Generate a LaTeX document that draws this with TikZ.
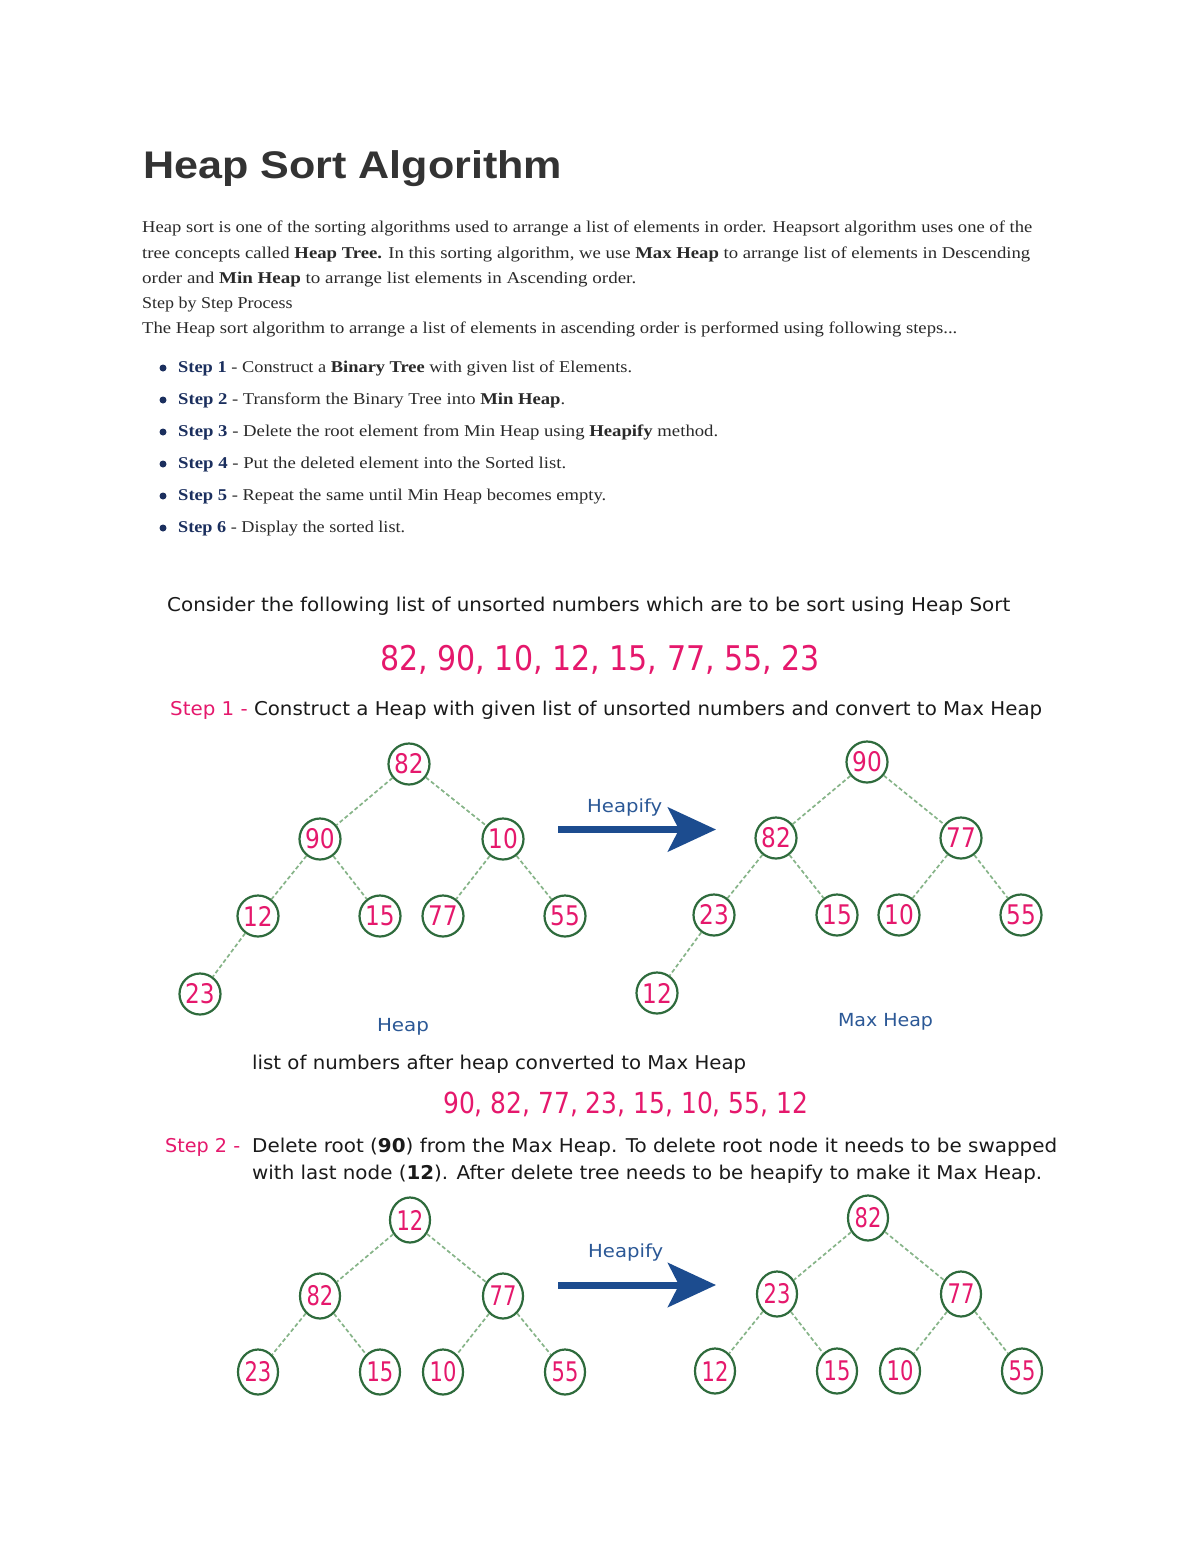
\documentclass[tikz,border=0pt]{standalone}
\usepackage{fontspec}
\usepackage{graphicx}
\setmainfont{Liberation Serif}
\newfontfamily\titlefont{Liberation Sans}
\newfontfamily\imgfont{DejaVu Sans}
\usetikzlibrary{arrows.meta,shapes.geometric}
\definecolor{bodytext}{HTML}{2A2A2A}
\definecolor{titlegray}{HTML}{333333}
\definecolor{navy}{HTML}{1B2F5E}
\definecolor{hpink}{HTML}{E5186C}
\definecolor{ngreen}{HTML}{2E6B3C}
\definecolor{egreen}{HTML}{86B488}
\definecolor{hblue}{HTML}{2B5896}
\definecolor{abl}{HTML}{1C4C8F}
\definecolor{imgtext}{HTML}{1A1A1A}
\newcommand\fitto[2]{\resizebox{#1}{\height}{#2}}
\begin{document}
\begin{tikzpicture}[x=1pt,y=-1pt,
  txt/.style={inner sep=0pt, anchor=base west, text=bodytext, font=\fontsize{16.5}{20}\selectfont},
  imgtxt/.style={inner sep=0pt, anchor=base west, text=imgtext, font=\imgfont\fontsize{19}{22}\selectfont},
  bignum/.style={inner sep=0pt, anchor=base west, text=hpink, font=\imgfont\fontsize{34}{38}\selectfont},
  lbl/.style={inner sep=0pt, anchor=base west, text=hblue, font=\imgfont\fontsize{18}{20}\selectfont},
  bulletdot/.style={circle, fill=navy, inner sep=0pt, minimum size=7pt},
  hn/.style={circle, draw=ngreen, line width=2.2pt, fill=white, minimum size=41pt, inner sep=0pt, text=hpink, font=\imgfont\fontsize{27}{27}\selectfont},
  he/.style={ellipse, draw=ngreen, line width=2.2pt, fill=white, minimum width=40pt, minimum height=45pt, inner sep=0pt, text=hpink, font=\imgfont\fontsize{27}{27}\selectfont},
  edge/.style={draw=egreen, line width=1.7pt, dash pattern=on 4pt off 2.5pt},
  harrow/.style={draw=abl, line width=7pt, -{Stealth[length=48pt, width=44pt, inset=11pt]}}
]
\useasboundingbox[fill=white] (0,0) rectangle (1200,1553);

% ---- title and text ----
\node[inner sep=0pt, anchor=base west, text=titlegray, font=\titlefont\bfseries\fontsize{38.5}{44}\selectfont] (title) at (143,178.3) {\fitto{419pt}{Heap Sort Algorithm}};

\node[txt] (p1) at (142,232.5) {\fitto{890pt}{Heap sort is one of the sorting algorithms used to arrange a list of elements in order. Heapsort algorithm uses one of the}};
\node[txt] (p2) at (142,258) {\fitto{888pt}{tree concepts called \textbf{Heap Tree.} In this sorting algorithm, we use \textbf{Max Heap} to arrange list of elements in Descending}};
\node[txt] (p3) at (142,283) {\fitto{494pt}{order and \textbf{Min Heap} to arrange list elements in Ascending order.}};
\node[txt] (p4) at (142,308) {\fitto{150.5pt}{Step by Step Process}};
\node[txt] (p5) at (142,333) {\fitto{815pt}{The Heap sort algorithm to arrange a list of elements in ascending order is performed using following steps...}};

\node[bulletdot] (b1) at (163,368) {};
\node[bulletdot] (b2) at (163,400) {};
\node[bulletdot] (b3) at (163,432) {};
\node[bulletdot] (b4) at (163,464) {};
\node[bulletdot] (b5) at (163,496) {};
\node[bulletdot] (b6) at (163,528) {};
\node[txt] (s1) at (178,372) {\fitto{454pt}{\textcolor{navy}{\textbf{Step 1}} - Construct a \textbf{Binary Tree} with given list of Elements.}};
\node[txt] (s2) at (178,404) {\fitto{387pt}{\textcolor{navy}{\textbf{Step 2}} - Transform the Binary Tree into \textbf{Min Heap}.}};
\node[txt] (s3) at (178,436) {\fitto{540pt}{\textcolor{navy}{\textbf{Step 3}} - Delete the root element from Min Heap using \textbf{Heapify} method.}};
\node[txt] (s4) at (178,468) {\fitto{388pt}{\textcolor{navy}{\textbf{Step 4}} - Put the deleted element into the Sorted list.}};
\node[txt] (s5) at (178,500) {\fitto{428pt}{\textcolor{navy}{\textbf{Step 5}} - Repeat the same until Min Heap becomes empty.}};
\node[txt] (s6) at (178,532) {\fitto{227pt}{\textcolor{navy}{\textbf{Step 6}} - Display the sorted list.}};

% ---- image part ----
\node[imgtxt] (c1) at (167,611) {\fitto{843pt}{Consider the following list of unsorted numbers which are to be sort using Heap Sort}};
\node[bignum] (n1) at (380,670) {\fitto{440pt}{82, 90, 10, 12, 15, 77, 55, 23}};
\node[imgtxt] (st1) at (170,715) {\fitto{872pt}{\textcolor{hpink}{Step 1 -} Construct a Heap with given list of unsorted numbers and convert to Max Heap}};

% tree 1 (Heap)
\node[hn] (a82) at (409,764) {\scalebox{0.86}[1]{82}};
\node[hn] (a90) at (320,839) {\scalebox{0.86}[1]{90}};
\node[hn] (a10) at (503,839) {\scalebox{0.86}[1]{10}};
\node[hn] (a12) at (258,916) {\scalebox{0.86}[1]{12}};
\node[hn] (a15) at (380,916) {\scalebox{0.86}[1]{15}};
\node[hn] (a77) at (443,916) {\scalebox{0.86}[1]{77}};
\node[hn] (a55) at (565,916) {\scalebox{0.86}[1]{55}};
\node[hn] (a23) at (200,994) {\scalebox{0.86}[1]{23}};
\draw[edge] (a82) -- (a90);
\draw[edge] (a82) -- (a10);
\draw[edge] (a90) -- (a12);
\draw[edge] (a90) -- (a15);
\draw[edge] (a10) -- (a77);
\draw[edge] (a10) -- (a55);
\draw[edge] (a12) -- (a23);
\node[lbl, anchor=base] (heaplbl) at (403,1031) {\fitto{52pt}{Heap}};

% arrow 1
\node[lbl] (hp1) at (587,812) {\fitto{75pt}{Heapify}};
\coordinate (h1s) at (558,829.5);
\coordinate (h1e) at (716,829.5);
\draw[harrow] (h1s) -- (h1e);

% tree 2 (Max Heap)
\node[hn] (b90) at (867,762) {\scalebox{0.86}[1]{90}};
\node[hn] (b82) at (776,838) {\scalebox{0.86}[1]{82}};
\node[hn] (b77) at (961,838) {\scalebox{0.86}[1]{77}};
\node[hn] (b23) at (714,915) {\scalebox{0.86}[1]{23}};
\node[hn] (b15) at (837,915) {\scalebox{0.86}[1]{15}};
\node[hn] (b10) at (899,915) {\scalebox{0.86}[1]{10}};
\node[hn] (b55) at (1021,915) {\scalebox{0.86}[1]{55}};
\node[hn] (b12) at (657,993) {\scalebox{0.86}[1]{12}};
\draw[edge] (b90) -- (b82);
\draw[edge] (b90) -- (b77);
\draw[edge] (b82) -- (b23);
\draw[edge] (b82) -- (b15);
\draw[edge] (b77) -- (b10);
\draw[edge] (b77) -- (b55);
\draw[edge] (b23) -- (b12);
\node[lbl, anchor=base] (maxlbl) at (885.5,1026) {\fitto{95pt}{Max Heap}};

\node[imgtxt] (l2) at (252,1069) {\fitto{494pt}{list of numbers after heap converted to Max Heap}};
\node[bignum, font=\imgfont\fontsize{29}{32}\selectfont] (n2) at (443,1113) {\fitto{365pt}{90, 82, 77, 23, 15, 10, 55, 12}};
\node[imgtxt, text=hpink] (st2) at (165,1152) {\fitto{75pt}{Step 2 -}};
\node[imgtxt] (d1) at (252,1152) {\fitto{805pt}{Delete root (\textbf{90}) from the Max Heap. To delete root node it needs to be swapped}};
\node[imgtxt] (d2) at (252,1179) {\fitto{790pt}{with last node (\textbf{12}). After delete tree needs to be heapify to make it Max Heap.}};

% tree 3
\node[he] (c12) at (410,1220) {\scalebox{0.78}[1]{12}};
\node[he] (c82) at (320,1296) {\scalebox{0.78}[1]{82}};
\node[he] (c77) at (503,1296) {\scalebox{0.78}[1]{77}};
\node[he] (c23) at (258,1372) {\scalebox{0.78}[1]{23}};
\node[he] (c15) at (380,1372) {\scalebox{0.78}[1]{15}};
\node[he] (c10) at (443,1372) {\scalebox{0.78}[1]{10}};
\node[he] (c55) at (565,1372) {\scalebox{0.78}[1]{55}};
\draw[edge] (c12) -- (c82);
\draw[edge] (c12) -- (c77);
\draw[edge] (c82) -- (c23);
\draw[edge] (c82) -- (c15);
\draw[edge] (c77) -- (c10);
\draw[edge] (c77) -- (c55);

% arrow 2
\node[lbl] (hp2) at (588,1257) {\fitto{75pt}{Heapify}};
\coordinate (h2s) at (558,1285);
\coordinate (h2e) at (716,1285);
\draw[harrow] (h2s) -- (h2e);

% tree 4
\node[he] (d82) at (868,1218) {\scalebox{0.78}[1]{82}};
\node[he] (d23) at (777,1294) {\scalebox{0.78}[1]{23}};
\node[he] (d77) at (961,1294) {\scalebox{0.78}[1]{77}};
\node[he] (d12) at (715,1371) {\scalebox{0.78}[1]{12}};
\node[he] (d15) at (837,1371) {\scalebox{0.78}[1]{15}};
\node[he] (d10) at (900,1371) {\scalebox{0.78}[1]{10}};
\node[he] (d55) at (1022,1371) {\scalebox{0.78}[1]{55}};
\draw[edge] (d82) -- (d23);
\draw[edge] (d82) -- (d77);
\draw[edge] (d23) -- (d12);
\draw[edge] (d23) -- (d15);
\draw[edge] (d77) -- (d10);
\draw[edge] (d77) -- (d55);
\end{tikzpicture}
\end{document}
